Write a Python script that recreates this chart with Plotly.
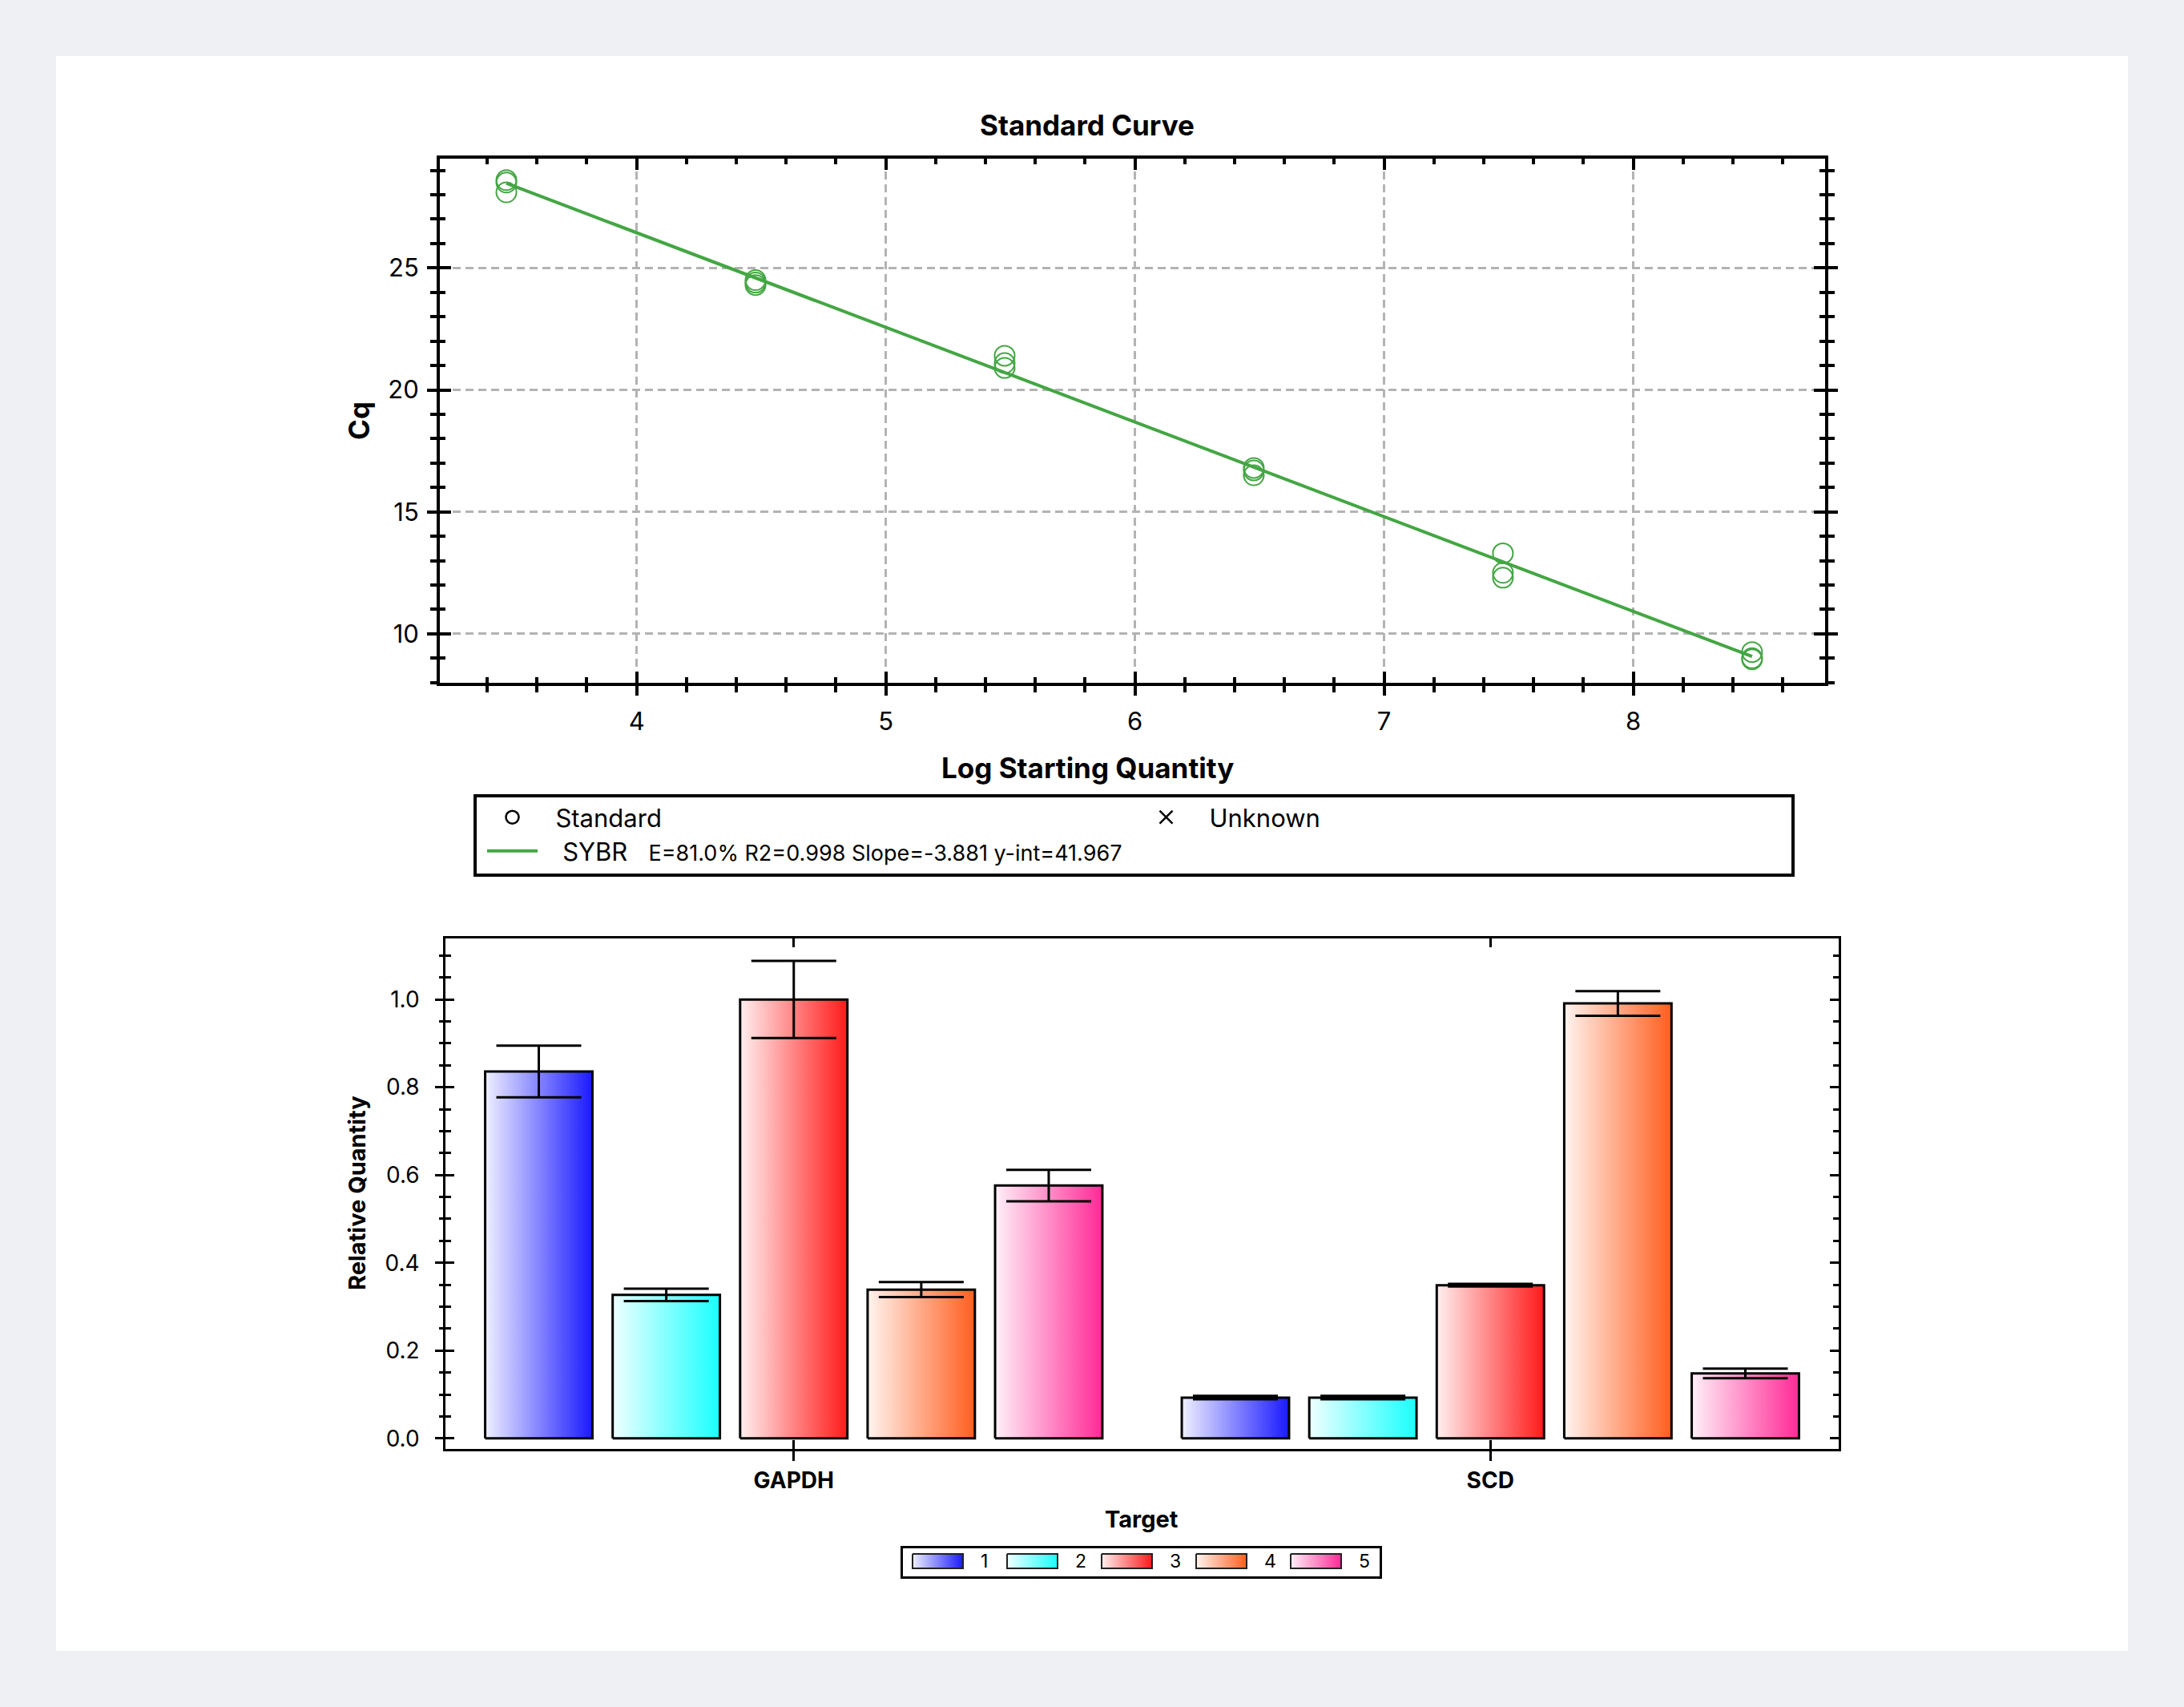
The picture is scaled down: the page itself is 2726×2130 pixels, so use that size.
import plotly.graph_objects as go

# ---------------- data ----------------
log_qty = [3.477, 4.477, 5.477, 6.477, 7.477, 8.477]
cq_rep1 = [28.6, 24.5, 21.4, 16.8, 13.3, 9.25]
cq_rep2 = [28.5, 24.4, 21.1, 16.7, 12.5, 9.0]
cq_rep3 = [28.1, 24.3, 20.9, 16.5, 12.3, 8.95]
fit_slope = -3.881
fit_intercept = 41.967
fit_efficiency = 81.0
fit_r2 = 0.998

targets = ["GAPDH", "SCD"]
samples = ["1", "2", "3", "4", "5"]
rq_gapdh = [0.836, 0.327, 1.000, 0.339, 0.576]
rq_scd = [0.093, 0.093, 0.349, 0.991, 0.148]
err_gapdh = [0.059, 0.014, 0.088, 0.017, 0.036]
err_scd = [0.004, 0.004, 0.003, 0.028, 0.011]
sample_colors = ["#1a1aff", "#1affff", "#ff1a1a", "#ff5e1f", "#ff2a96"]

# ---------------- geometry helpers ----------------
W, H = 2726, 2130
M = 70
PW, PH = W - 2 * M, H - 2 * M


def fx(px):
    return (px - M) / PW


def fy(py):
    return (H - M - py) / PH


def tint(hexcol, amount):
    r, g, b = int(hexcol[1:3], 16), int(hexcol[3:5], 16), int(hexcol[5:7], 16)
    r = round(r + (255 - r) * amount)
    g = round(g + (255 - g) * amount)
    b = round(b + (255 - b) * amount)
    return f"rgb({r},{g},{b})"


GREEN = "#43a643"
NB = "\u00a0"
FONT = "Inter"

fig = go.Figure()

# ---------------- standard curve ----------------
fig.add_trace(go.Scatter(
    x=[None], y=[None], mode="markers", name=NB * 2 + "Standard",
    marker=dict(symbol="circle-open", size=16, color="black", line=dict(width=2.5)),
    xaxis="x", yaxis="y", legend="legend", showlegend=True))
fig.add_trace(go.Scatter(
    x=[None], y=[None], mode="markers", name=NB * 2 + "Unknown",
    marker=dict(symbol="x-thin-open", size=16, color="black", line=dict(width=2.5)),
    xaxis="x", yaxis="y", legend="legend", showlegend=True))

pts_x = log_qty * 3
pts_y = cq_rep1 + cq_rep2 + cq_rep3
fig.add_trace(go.Scatter(
    x=pts_x, y=pts_y, mode="markers", showlegend=False, name="Standard",
    marker=dict(symbol="circle-open", size=25, color=GREEN, line=dict(width=2)),
    xaxis="x", yaxis="y"))

fit_x = [min(log_qty), max(log_qty)]
fit_y = [fit_slope * v + fit_intercept for v in fit_x]
stats = f"E={fit_efficiency:.1f}% R2={fit_r2:.3f} Slope={fit_slope:.3f} y-int={fit_intercept:.3f}"
fig.add_trace(go.Scatter(
    x=fit_x, y=fit_y, mode="lines", line=dict(color=GREEN, width=4),
    name=NB * 3 + "SYBR" + NB * 3 + f"<span style='font-size:27px'>{stats}</span>",
    xaxis="x", yaxis="y", legend="legend2", showlegend=True))

# dummy traces for crossing-tick overlay axes
fig.add_trace(go.Scatter(x=[None], y=[None], xaxis="x3", yaxis="y3", showlegend=False, hoverinfo="skip"))
fig.add_trace(go.Scatter(x=[None], y=[None], xaxis="x4", yaxis="y4", showlegend=False, hoverinfo="skip"))

# ---------------- relative quantity bars ----------------
bar_w = 0.154
pitch = 0.183
values = [rq_gapdh, rq_scd]
errors = [err_gapdh, err_scd]
for si, s in enumerate(samples):
    col = sample_colors[si]
    for ti, t in enumerate(targets):
        c = ti + (si - 2) * pitch
        v = values[ti][si]
        fig.add_trace(go.Scatter(
            x=[c - bar_w / 2, c - bar_w / 2, c + bar_w / 2, c + bar_w / 2, c - bar_w / 2],
            y=[0, v, v, 0, 0], mode="lines", fill="toself",
            fillgradient=dict(type="horizontal",
                              colorscale=[[0, tint(col, 0.93)], [1, col]]),
            line=dict(color="black", width=3),
            name=f"{t} {s}", legendgroup=s, showlegend=False,
            xaxis="x2", yaxis="y2", hoverinfo="skip"))

for si, s in enumerate(samples):
    xs = [ti + (si - 2) * pitch for ti in range(len(targets))]
    ys = [values[ti][si] for ti in range(len(targets))]
    es = [errors[ti][si] for ti in range(len(targets))]
    fig.add_trace(go.Scatter(
        x=xs, y=ys, mode="markers", showlegend=False, legendgroup=s,
        marker=dict(size=1, color="rgba(0,0,0,0)"),
        error_y=dict(type="data", array=es, visible=True, color="black", thickness=3, width=53),
        xaxis="x2", yaxis="y2", hoverinfo="skip"))

# ---------------- sample key (bottom legend) on a pixel-scaled helper axis ----------------
KEY_X0, KEY_X1, KEY_Y0, KEY_Y1 = 1124, 1725, 1929, 1970
SW_X0, SW_W, SW_Y0, SW_H, SW_PITCH, TXT_DX = 1139, 63, 1939, 18, 118, 83
for si, s in enumerate(samples):
    col = sample_colors[si]
    x0 = SW_X0 + si * SW_PITCH
    fig.add_trace(go.Scatter(
        x=[x0, x0, x0 + SW_W, x0 + SW_W, x0], y=[SW_Y0, SW_Y0 + SW_H, SW_Y0 + SW_H, SW_Y0, SW_Y0],
        mode="lines", fill="toself",
        fillgradient=dict(type="horizontal", colorscale=[[0, tint(col, 0.93)], [1, col]]),
        line=dict(color="#222222", width=2), name=s, showlegend=False,
        xaxis="x5", yaxis="y5", hoverinfo="skip"))
    fig.add_annotation(text=s, x=x0 + TXT_DX, y=SW_Y0 + SW_H / 2, xref="x5", yref="y5",
                       xanchor="left", yanchor="middle", showarrow=False,
                       font=dict(family=FONT, size=23, color="black"))
fig.add_shape(type="rect", xref="x5", yref="y5", x0=KEY_X0 + 1.5, x1=KEY_X1 - 1.5,
              y0=KEY_Y0 + 1.5, y1=KEY_Y1 - 1.5, fillcolor="white",
              line=dict(color="black", width=3), layer="below")

# ---------------- layout ----------------
tick_font_top = dict(family=FONT, size=31, color="black")
grid = dict(showgrid=True, gridcolor="#b3b3b3", gridwidth=3, griddash="10px,6px")
xr_top = [3.21, 8.77]
yr_top = [7.99, 29.48]
xr_bot = [-0.5, 1.5]
yr_bot = [-0.024, 1.139]

fig.update_layout(
    width=W, height=H,
    margin=dict(l=M, r=M, t=M, b=M),
    paper_bgcolor="#eff0f4", plot_bgcolor="white",
    font=dict(family=FONT, color="black"),
    xaxis=dict(domain=[fx(549), fx(2278)], anchor="y", range=xr_top,
               tick0=0, dtick=1, ticks="outside", ticklen=12, tickwidth=4, tickcolor="black",
               showline=True, linewidth=4, linecolor="black", mirror=True, zeroline=False,
               tickfont=tick_font_top, ticklabelstandoff=6,
               minor=dict(ticks="outside", ticklen=8, tickwidth=3.5, tickcolor="black",
                          dtick=0.2, tick0=0, showgrid=False),
               **grid),
    xaxis3=dict(overlaying="x", anchor="y", range=xr_top, tick0=0, dtick=1,
                ticks="inside", ticklen=14, tickwidth=4, tickcolor="black",
                showline=True, linewidth=4, linecolor="black", mirror="ticks",
                showticklabels=False, showgrid=False, zeroline=False,
                minor=dict(ticks="inside", ticklen=7, tickwidth=3.5, tickcolor="black",
                           dtick=0.2, tick0=0, showgrid=False)),
    yaxis=dict(domain=[fy(852), fy(198)], anchor="x", range=yr_top,
               tick0=0, dtick=5, ticks="outside", ticklen=12, tickwidth=4, tickcolor="black",
               showline=True, linewidth=4, linecolor="black", mirror="ticks", zeroline=False,
               tickfont=tick_font_top, ticklabelstandoff=4,
               minor=dict(ticks="outside", ticklen=8, tickwidth=3.5, tickcolor="black",
                          dtick=1, tick0=0, showgrid=False),
               **grid),
    yaxis3=dict(overlaying="y", anchor="x", range=yr_top, tick0=0, dtick=5,
                ticks="inside", ticklen=14, tickwidth=4, tickcolor="black",
                showline=True, linewidth=4, linecolor="black", mirror="ticks",
                showticklabels=False, showgrid=False, zeroline=False,
                minor=dict(ticks="inside", ticklen=7, tickwidth=3.5, tickcolor="black",
                           dtick=1, tick0=0, showgrid=False)),
    xaxis2=dict(domain=[fx(556), fx(2295)], anchor="y2", range=xr_bot,
                tickmode="array", tickvals=list(range(len(targets))), ticktext=targets,
                ticks="outside", ticklen=12, tickwidth=2.5, tickcolor="black",
                showline=True, linewidth=2.5, linecolor="black", mirror=True,
                showgrid=False, zeroline=False, ticklabelstandoff=1,
                tickfont=dict(family=FONT, size=28, color="black", weight=700)),
    xaxis4=dict(overlaying="x2", anchor="y2", range=xr_bot,
                tickmode="array", tickvals=list(range(len(targets))),
                ticks="inside", ticklen=11, tickwidth=2.5, tickcolor="black",
                showline=True, linewidth=2.5, linecolor="black", mirror="ticks",
                showticklabels=False, showgrid=False, zeroline=False),
    yaxis2=dict(domain=[fy(1808), fy(1171)], anchor="x2", range=yr_bot,
                tick0=0, dtick=0.2, tickformat=".1f",
                ticks="outside", ticklen=10, tickwidth=3, tickcolor="black",
                showline=True, linewidth=2.5, linecolor="black", mirror=True,
                showgrid=False, zeroline=False, ticklabelstandoff=14,
                tickfont=dict(family=FONT, size=28, color="black"),
                minor=dict(ticks="outside", ticklen=5, tickwidth=3, tickcolor="black",
                           dtick=0.05, tick0=0, showgrid=False)),
    yaxis4=dict(overlaying="y2", anchor="x2", range=yr_bot, tick0=0, dtick=0.2,
                ticks="inside", ticklen=11, tickwidth=3, tickcolor="black",
                showline=True, linewidth=2.5, linecolor="black", mirror="ticks",
                showticklabels=False, showgrid=False, zeroline=False,
                minor=dict(ticks="inside", ticklen=7, tickwidth=3, tickcolor="black",
                           dtick=0.05, tick0=0, showgrid=False)),
    xaxis5=dict(domain=[fx(KEY_X0), fx(KEY_X1)], anchor="y5", range=[KEY_X0, KEY_X1],
                visible=False, fixedrange=True),
    yaxis5=dict(domain=[fy(KEY_Y1), fy(KEY_Y0)], anchor="x5", range=[KEY_Y1, KEY_Y0],
                visible=False, fixedrange=True),
    legend=dict(orientation="h", x=fx(603), y=fy(993), xanchor="left", yanchor="top",
                traceorder="normal", entrywidth=738, entrywidthmode="pixels", itemwidth=63,
                bgcolor="rgba(0,0,0,0)", borderwidth=0,
                font=dict(family=FONT, size=31, color="black")),
    legend2=dict(orientation="h", x=fx(603), y=fy(1035), xanchor="left", yanchor="top",
                 traceorder="normal", itemwidth=63, bgcolor="rgba(0,0,0,0)", borderwidth=0,
                 font=dict(family=FONT, size=31, color="black")),
    showlegend=True,
)

# card background and legend frame
fig.add_shape(type="rect", xref="paper", yref="paper", x0=0, x1=1, y0=0, y1=1,
              fillcolor="white", line=dict(width=0), layer="below")
fig.add_shape(type="rect", xref="paper", yref="paper",
              x0=fx(593), x1=fx(2238), y0=fy(1092), y1=fy(993),
              fillcolor="rgba(0,0,0,0)", line=dict(color="black", width=4), layer="above")

# titles
ann = [
    dict(text="Standard Curve", x=fx(1357), y=fy(156), size=35, angle=0),
    dict(text="Log Starting Quantity", x=fx(1357), y=fy(958), size=35, angle=0),
    dict(text="Cq", x=fx(448), y=fy(525), size=35, angle=-90),
    dict(text="Relative Quantity", x=fx(445), y=fy(1489), size=29, angle=-90),
    dict(text="Target", x=fx(1425), y=fy(1895), size=29, angle=0),
]
for a in ann:
    fig.add_annotation(text=a["text"], x=a["x"], y=a["y"], xref="paper", yref="paper",
                       xanchor="center", yanchor="middle", showarrow=False, textangle=a["angle"],
                       font=dict(family=FONT, size=a["size"], color="black", weight=700))

fig.write_html("out.html")
